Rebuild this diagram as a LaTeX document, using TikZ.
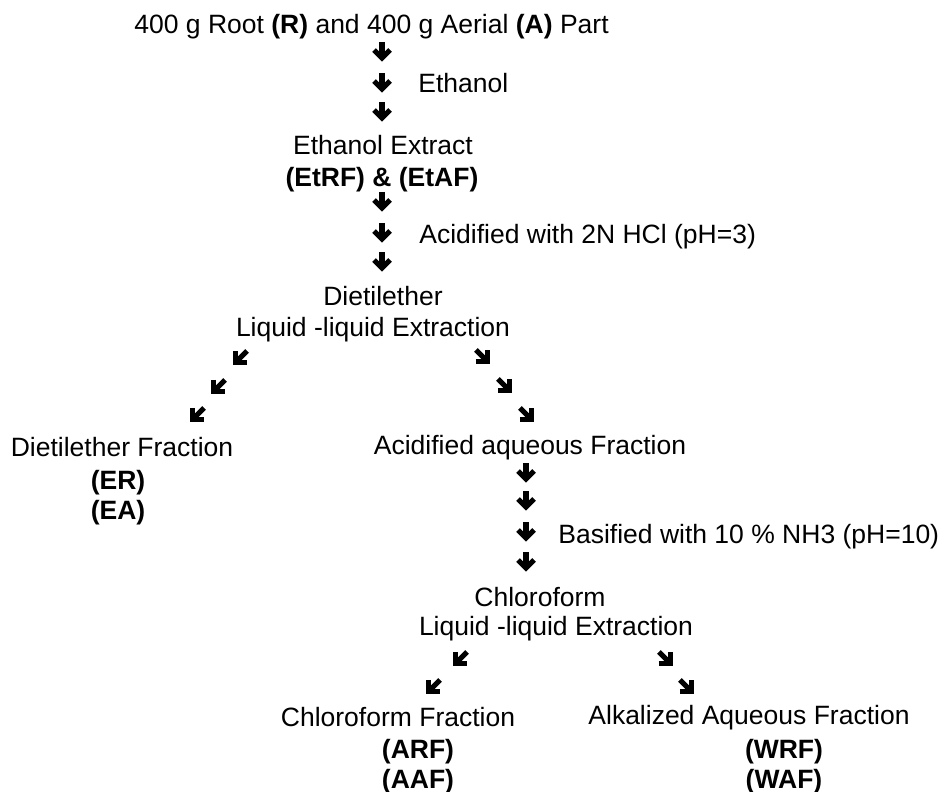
\documentclass[tikz,border=0pt]{standalone}
\usepackage{fontspec}
\setmainfont{Liberation Sans}
\begin{document}
\begin{tikzpicture}[x=0.5pt,y=-0.5pt,
  txt/.style={font=\fontsize{13.25pt}{15pt}\selectfont, inner sep=0pt, anchor=base},
  lbl/.style={txt, anchor=base west},
  glyph/.style={line width=2.6pt, line join=miter, miter limit=10},
  dnarrow/.pic={\draw[glyph] (0,-10) -- (0,4); \draw[glyph] (-8,-2) -- (0,6) -- (8,-2);},
  dlarrow/.pic={\begin{scope}[rotate=-45]\draw[glyph] (0,-10) -- (0,4); \draw[glyph] (-8,-2) -- (0,6) -- (8,-2);\end{scope}},
  drarrow/.pic={\begin{scope}[rotate=45]\draw[glyph] (0,-10) -- (0,4); \draw[glyph] (-8,-2) -- (0,6) -- (8,-2);\end{scope}}
]
\fill[white] (0,0) rectangle (938,792);
\useasboundingbox (0,0) rectangle (938,792);

% top
\node[txt] (title) at (371.5,34) {400 g Root \textbf{(R)} and 400 g Aerial \textbf{(A)} Part};
\pic (a1) at (382,52) {dnarrow};
\pic (a2) at (382,83) {dnarrow};
\pic (a3) at (382,112) {dnarrow};
\node[lbl] (eth) at (418,93) {Ethanol};

\node[txt] (ex1) at (383,155) {Ethanol Extract};
\node[txt] (ex2) at (382,186) {\textbf{(EtRF) \& (EtAF)}};
\pic (a4) at (382,202) {dnarrow};
\pic (a5) at (382,233) {dnarrow};
\pic (a6) at (382,262) {dnarrow};
\node[lbl] (acid) at (419,243) {Acidified with 2N HCl (pH=3)};

\node[txt] (d1) at (383,306) {Dietilether};
\node[txt] (d2) at (373,336) {Liquid -liquid Extraction};

\pic (l1) at (240,358) {dlarrow};
\pic (l2) at (218,387) {dlarrow};
\pic (l3) at (197,415) {dlarrow};
\pic (r1) at (483,357) {drarrow};
\pic (r2) at (505,386) {drarrow};
\pic (r3) at (527,415) {drarrow};

\node[txt] (f1) at (122,456) {Dietilether Fraction};
\node[txt] (f2) at (118,489) {\textbf{(ER)}};
\node[txt] (f3) at (118,519) {\textbf{(EA)}};

\node[txt] (g1) at (530,454) {Acidified aqueous Fraction};
\pic (b1) at (526,473) {dnarrow};
\pic (b2) at (526,501) {dnarrow};
\pic (b3) at (526,532) {dnarrow};
\pic (b4) at (526,562) {dnarrow};
\node[lbl] (bas) at (558,543) {Basified with 10 \% NH3 (pH=10)};

\node[txt] (c1) at (540,606) {Chloroform};
\node[txt] (c2) at (556,635) {Liquid -liquid Extraction};

\pic (m1) at (460,659) {dlarrow};
\pic (m2) at (433,687) {dlarrow};
\pic (n1) at (666,659) {drarrow};
\pic (n2) at (687,687) {drarrow};

\node[txt] (h1) at (398,726) {Chloroform Fraction};
\node[txt] (h2) at (418,758) {\textbf{(ARF)}};
\node[txt] (h3) at (418,788) {\textbf{(AAF)}};

\node[txt] (k1) at (749,724) {Alkalized Aqueous Fraction};
\node[txt] (k2) at (784,758) {\textbf{(WRF)}};
\node[txt] (k3) at (784,788) {\textbf{(WAF)}};
\end{tikzpicture}
\end{document}
